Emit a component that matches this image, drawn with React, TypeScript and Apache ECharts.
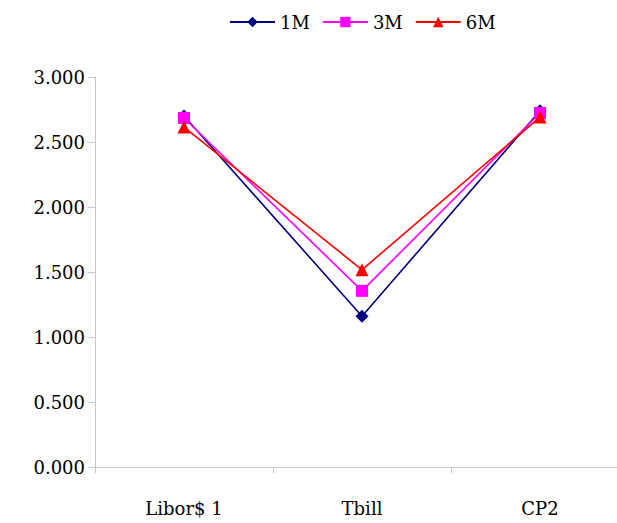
import React, { useEffect, useRef } from "react";
import * as echarts from "echarts";

const categories = ["Libor$ 1", "Tbill", "CP2"];
const seriesNames = ["1M", "3M", "6M"];
const values1M = [2.70, 1.16, 2.74];
const values3M = [2.685, 1.355, 2.723];
const values6M = [2.615, 1.517, 2.692];

const FONT = "DejaVu Serif, Liberation Serif, serif";

export default function App() {
  const ref = useRef<HTMLDivElement>(null);
  useEffect(() => {
    document.body.style.margin = "0";
    const chart = echarts.init(ref.current!, null, { renderer: "svg" });
    const mk = (name: string, data: number[], color: string, symbol: string, size: number) => ({
      name,
      type: "line",
      data,
      symbol,
      symbolSize: size,
      lineStyle: { color, width: 1.6 },
      itemStyle: { color },
      emphasis: { disabled: true },
    });
    chart.setOption({
      animation: false,
      textStyle: { fontFamily: FONT },
      legend: {
        left: 224,
        top: 8,
        itemWidth: 45,
        itemHeight: 13,
        itemGap: 12,
        textStyle: { fontFamily: FONT, fontSize: 18, color: "#000" },
        data: seriesNames,
      },
      grid: {
        left: 95,
        top: 77,
        right: -12,
        height: 390,
        containLabel: false,
        outerBoundsMode: "none",
      },
      xAxis: {
        type: "category",
        data: categories,
        boundaryGap: true,
        axisLine: { lineStyle: { color: "#c8c8c8", width: 1 } },
        axisTick: { show: true, lineStyle: { color: "#c8c8c8" }, length: 6 },
        axisLabel: { fontFamily: FONT, fontSize: 18, color: "#000", margin: 32 },
      },
      yAxis: {
        type: "value",
        min: 0,
        max: 3,
        interval: 0.5,
        axisLine: { show: true, lineStyle: { color: "#c8c8c8", width: 1 } },
        axisTick: { show: true, lineStyle: { color: "#c8c8c8" }, length: 7 },
        splitLine: { show: false },
        axisLabel: {
          fontFamily: FONT,
          fontSize: 18,
          color: "#000",
          margin: 10,
          formatter: (v: number) => v.toFixed(3),
        },
      },
      series: [
        mk(seriesNames[0], values1M, "#000080", "diamond", 13),
        mk(seriesNames[1], values3M, "#ff00ff", "rect", 12),
        mk(seriesNames[2], values6M, "#ff0000", "triangle", 13),
      ],
    });
    return () => chart.dispose();
  }, []);
  return <div ref={ref} style={{ width: 617, height: 523 }} />;
}
